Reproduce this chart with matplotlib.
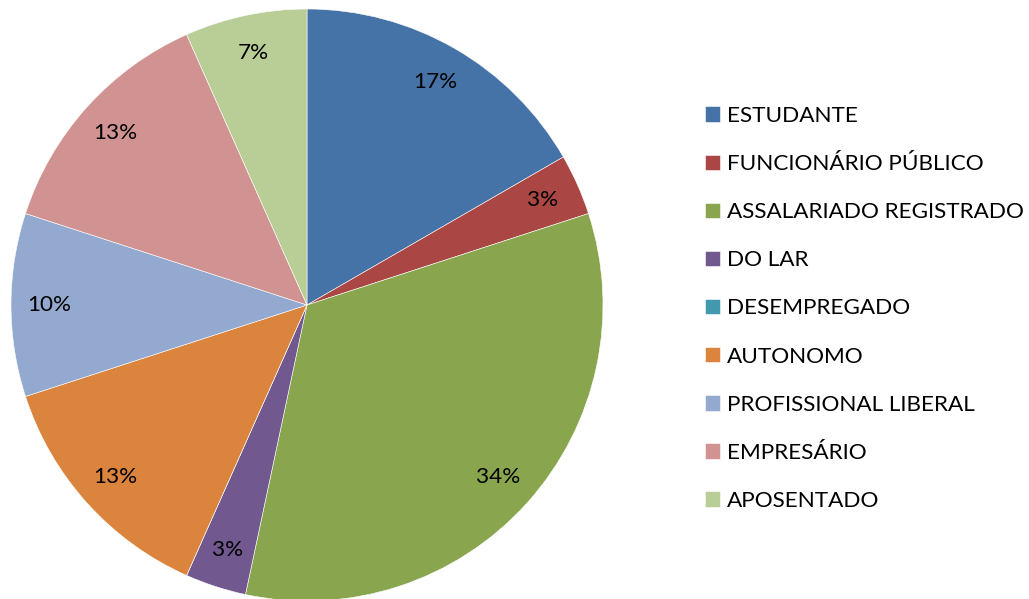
import matplotlib
matplotlib.use("Agg")
import matplotlib.pyplot as plt

categories = ["ESTUDANTE", "FUNCIONÁRIO PÚBLICO", "ASSALARIADO REGISTRADO", "DO LAR",
              "DESEMPREGADO", "AUTONOMO", "PROFISSIONAL LIBERAL", "EMPRESÁRIO", "APOSENTADO"]
values = [5, 1, 10, 1, 0, 4, 3, 4, 2]
pct_labels = ["17%", "3%", "34%", "3%", "", "13%", "10%", "13%", "7%"]
colors = ["#4572A7", "#AA4643", "#89A54E", "#71588F", "#4198AF",
          "#DB843D", "#93A9CF", "#D19392", "#B9CD96"]

plt.rcParams['font.family'] = ['Lato', 'DejaVu Sans']

fig = plt.figure(figsize=(10.29, 5.99), dpi=100)
W, H = 1029, 599
cx, cy, r = 307, 305, 296
ax = fig.add_axes([(cx - r) / W, (H - cy - r) / H, 2 * r / W, 2 * r / H])
wedges, texts = ax.pie(values, colors=colors, startangle=90, counterclock=False,
                       radius=1.0, labels=pct_labels, labeldistance=0.87,
                       wedgeprops=dict(linewidth=0.4, edgecolor='white'),
                       textprops=dict(fontsize=16.2, color='black'))
for t in texts:
    t.set_horizontalalignment('center')
    t.set_verticalalignment('center')
ax.set_xlim(-1, 1)
ax.set_ylim(-1, 1)
ax.set_aspect('equal')
ax.axis('off')

leg = fig.legend(wedges, categories, loc='upper left',
                 bbox_to_anchor=(705 / W, 1 - 106 / H),
                 frameon=False, fontsize=16.2, handlelength=0.67, handleheight=0.67,
                 handletextpad=0.31, labelspacing=1.25, borderpad=0, borderaxespad=0)

fig.savefig("out.png", dpi=100)
